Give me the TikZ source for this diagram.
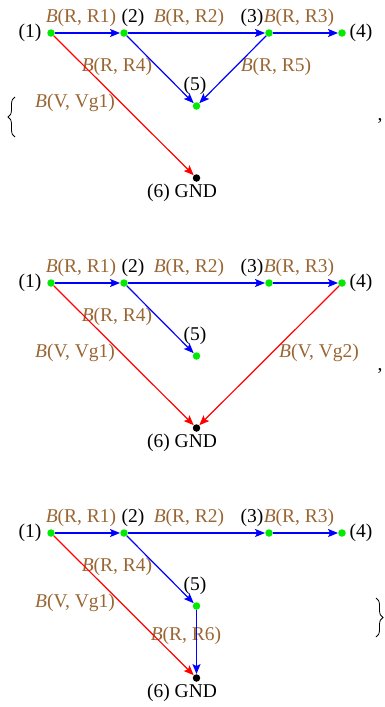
\documentclass[tikz,border=0pt]{standalone}
\usepackage{fontspec}
\setmainfont{Liberation Serif}
\usetikzlibrary{arrows.meta,decorations.pathreplacing}
\definecolor{lab}{RGB}{153,102,51}
\definecolor{vgreen}{RGB}{0,235,0}
\begin{document}
\begin{tikzpicture}[x=1pt,y=-1pt,font=\fontsize{19.5}{22}\selectfont,
  vtx/.style={circle,fill=vgreen,inner sep=0pt,minimum size=7.5pt},
  gnd/.style={circle,fill=black,inner sep=0pt,minimum size=7.5pt},
  lbl/.style={text=lab,inner sep=0pt},
  num/.style={inner sep=0pt},
  tip/.style={-{Stealth[length=10pt,width=8pt,inset=2pt]}},
  be/.style={draw=blue,line width=1.2pt,tip},
  re/.style={draw=red,line width=1.2pt,tip},
  br/.style={decorate,decoration={brace,amplitude=7pt},line width=0.8pt}]
\useasboundingbox (0,0) rectangle (384,707);
% ---------- graph 1 ----------
\node[vtx] (a1) at (51,33) {};
\node[vtx] (a2) at (124,33) {};
\node[vtx] (a3) at (269,33) {};
\node[vtx] (a4) at (342,33) {};
\node[vtx] (a5) at (196.5,106) {};
\node[gnd] (a6) at (196.5,178) {};
\node[num] (a1n) at (30,33) {(1)};
\node[num] (a2n) at (133,18) {(2)};
\node[num] (a3n) at (252,18) {(3)};
\node[num] (a4n) at (361,33) {(4)};
\node[num] (a5n) at (195,86) {(5)};
\node[num] (a6n) at (182,193) {(6) GND};
\node[lbl] (aL1) at (81,18) {\textit{B}(R, R1)};
\node[lbl] (aL2) at (189,18) {\textit{B}(R, R2)};
\node[lbl] (aL3) at (299,18) {\textit{B}(R, R3)};
\node[lbl] (aL4) at (117,67) {\textit{B}(R, R4)};
\node[lbl] (aL5) at (276,67) {\textit{B}(R, R5)};
\node[lbl] (aLv) at (75,103) {\textit{B}(V, Vg1)};
\draw[be] (a1) -- (a2);
\draw[be] (a2) -- (a3);
\draw[be] (a3) -- (a4);
\draw[be] (a2) -- (a5);
\draw[be] (a3) -- (a5);
\draw[re] (a1) -- (a6);
\coordinate (ob1) at (15,137);
\coordinate (ob2) at (15,97);
\draw[br] (ob1) -- (ob2);
\node[num] (c1) at (380,121) {,};
% ---------- graph 2 ----------
\node[vtx] (b1) at (51,283) {};
\node[vtx] (b2) at (124,283) {};
\node[vtx] (b3) at (269,283) {};
\node[vtx] (b4) at (342,283) {};
\node[vtx] (b5) at (196.5,356) {};
\node[gnd] (b6) at (196.5,428) {};
\node[num] (b1n) at (30,283) {(1)};
\node[num] (b2n) at (133,268) {(2)};
\node[num] (b3n) at (252,268) {(3)};
\node[num] (b4n) at (361,283) {(4)};
\node[num] (b5n) at (195,336) {(5)};
\node[num] (b6n) at (182,443) {(6) GND};
\node[lbl] (bL1) at (81,268) {\textit{B}(R, R1)};
\node[lbl] (bL2) at (189,268) {\textit{B}(R, R2)};
\node[lbl] (bL3) at (299,268) {\textit{B}(R, R3)};
\node[lbl] (bL4) at (117,317) {\textit{B}(R, R4)};
\node[lbl] (bLv) at (75,353) {\textit{B}(V, Vg1)};
\node[lbl] (bLw) at (319,353) {\textit{B}(V, Vg2)};
\draw[be] (b1) -- (b2);
\draw[be] (b2) -- (b3);
\draw[be] (b3) -- (b4);
\draw[be] (b2) -- (b5);
\draw[re] (b1) -- (b6);
\draw[re] (b4) -- (b6);
\node[num] (c2) at (380,371) {,};
% ---------- graph 3 ----------
\node[vtx] (d1) at (51,533) {};
\node[vtx] (d2) at (124,533) {};
\node[vtx] (d3) at (269,533) {};
\node[vtx] (d4) at (342,533) {};
\node[vtx] (d5) at (196.5,606) {};
\node[gnd] (d6) at (196.5,678) {};
\node[num] (d1n) at (30,533) {(1)};
\node[num] (d2n) at (133,518) {(2)};
\node[num] (d3n) at (252,518) {(3)};
\node[num] (d4n) at (361,533) {(4)};
\node[num] (d5n) at (195,586) {(5)};
\node[num] (d6n) at (182,693) {(6) GND};
\node[lbl] (dL1) at (81,518) {\textit{B}(R, R1)};
\node[lbl] (dL2) at (189,518) {\textit{B}(R, R2)};
\node[lbl] (dL3) at (299,518) {\textit{B}(R, R3)};
\node[lbl] (dL4) at (117,567) {\textit{B}(R, R4)};
\node[lbl] (dLv) at (75,603) {\textit{B}(V, Vg1)};
\node[lbl] (dL6) at (186,636) {\textit{B}(R, R6)};
\draw[be] (d1) -- (d2);
\draw[be] (d2) -- (d3);
\draw[be] (d3) -- (d4);
\draw[be] (d2) -- (d5);
\draw[be] (d5) -- (d6);
\draw[re] (d1) -- (d6);
\coordinate (cb1) at (376,598);
\coordinate (cb2) at (376,637);
\draw[br] (cb1) -- (cb2);
\end{tikzpicture}
\end{document}
